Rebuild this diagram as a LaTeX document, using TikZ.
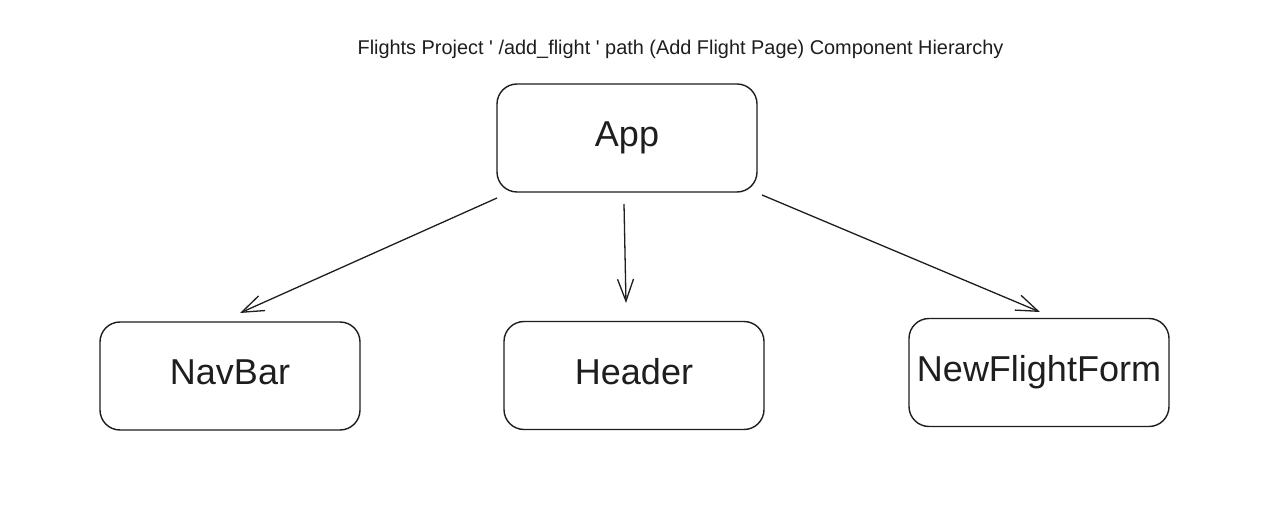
\documentclass[tikz,border=0pt]{standalone}
\usepackage{fontspec}
\setmainfont{Liberation Sans}
\usetikzlibrary{arrows.meta}
\definecolor{ink}{HTML}{1E1E1E}
\begin{document}
\begin{tikzpicture}[x=1pt,y=-1pt,
  comp/.style={draw=ink,text=ink,line width=1.4pt,rounded corners=20pt,minimum width=260pt,minimum height=108pt,font=\fontsize{36}{40}\selectfont,inner sep=0pt,text height=26pt,text depth=8.6pt},
  link/.style={draw=ink,line width=1.3pt,-{Straight Barb[length=22pt,width=16pt,line width=1.3pt]}}]
\useasboundingbox[fill=white] (0,0) rectangle (1263,510);
\node[font=\fontsize{19.9}{22}\selectfont,text=ink] (title) at (680.5,49) {Flights Project \textquotesingle{} /add\_flight \textquotesingle{} path (Add Flight Page) Component Hierarchy};
\node[comp] (app) at (627,138) {App};
\node[comp] (navbar) at (230,376) {NavBar};
\node[comp] (header) at (634,375.5) {Header};
\node[comp] (form) at (1039,372.5) {NewFlightForm};
\coordinate (a1) at (497,198);
\coordinate (a2) at (624,204);
\coordinate (a3) at (762,195);
\coordinate (b1) at (240,313);
\coordinate (b2) at (626,303);
\coordinate (b3) at (1040,312);
\draw[link] (a1) -- (b1);
\draw[link] (a2) -- (b2);
\draw[link] (a3) -- (b3);
\end{tikzpicture}
\end{document}
